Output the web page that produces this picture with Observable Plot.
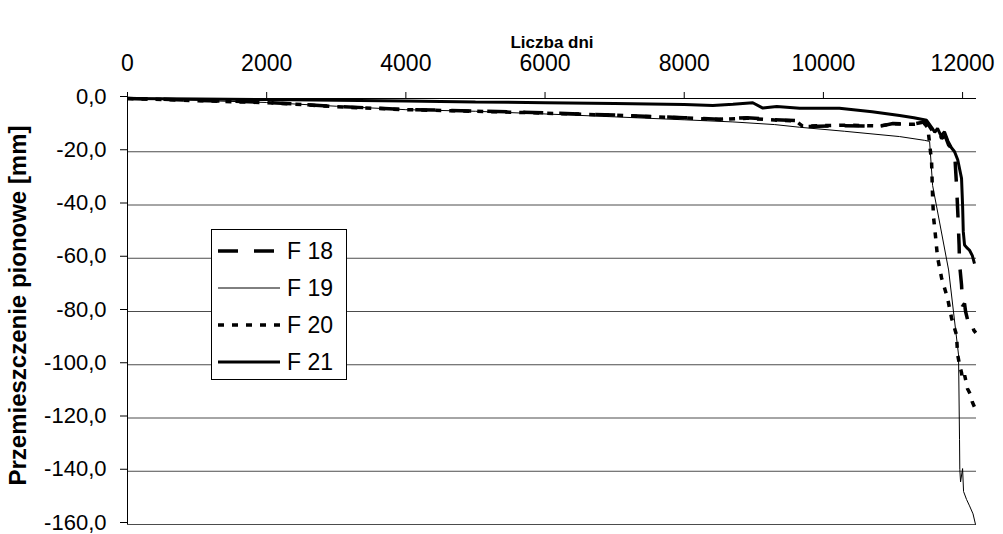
<!DOCTYPE html>
<html>
<head>
<meta charset="utf-8">
<script src="https://cdn.jsdelivr.net/npm/d3@7"></script>
<script src="https://cdn.jsdelivr.net/npm/@observablehq/plot@0.6"></script>
<style>
  body { margin: 0; background: #fff; }
  #wrap { position: relative; width: 1003px; height: 534px; font-family: "Liberation Sans", Arial, sans-serif; }
  #wrap svg { font-family: "Liberation Sans", Arial, sans-serif; }
  #legend { position: absolute; left: 211px; top: 229px; width: 136px; height: 151px; border: 1px solid #000; background: #fff; box-sizing: border-box; }
  .lrow { position: absolute; left: 0; height: 30px; display: flex; align-items: center; }
  .lrow span { font-size: 23px; color: #000; margin-left: 6px; }
</style>
</head>
<body>
<div id="wrap"><div id="legend"></div></div>
<script>
// ---- data ----
const xTicks = [0, 2000, 4000, 6000, 8000, 10000, 12000];
const yTicks = [0, -20, -40, -60, -80, -100, -120, -140, -160];
const seriesNames = ["F 18", "F 19", "F 20", "F 21"];

const f18Days = [0, 500, 1000, 1500, 2000, 2500, 3000, 4000, 5000, 6000, 7000, 8000, 8500, 8900, 9300, 9600, 9700, 10300, 10800, 11000, 11300, 11450, 11500, 11600, 11650, 11700, 11750, 11800, 11885, 11914, 11935, 11950, 11956, 11985, 12000, 12028, 12043, 12071, 12100, 12128, 12160, 12190];
const f18Vals = [0, -0.3, -0.7, -1.0, -1.5, -2.2, -3.0, -4.1, -4.7, -5.4, -6.2, -7.2, -7.8, -7.2, -8.0, -8.3, -10.6, -10.2, -10.5, -9.4, -9.6, -8.8, -9.5, -13.5, -12.0, -15.0, -14.0, -17.5, -20, -33, -45, -55, -62, -70, -78, -77, -80, -83, -85, -84, -87, -88];

const f19Days = [0, 1000, 2000, 3000, 4000, 5000, 6000, 7000, 8000, 8700, 9300, 9660, 10300, 11095, 11450, 11526, 11569, 11799, 11942, 11956, 11960, 11971, 12000, 12014, 12057, 12100, 12150, 12186];
const f19Vals = [0, -0.7, -1.5, -2.9, -4.2, -4.8, -5.8, -6.9, -8.0, -8.8, -9.8, -10.8, -12.3, -14.3, -15.7, -16.1, -32.6, -64.4, -96.3, -128, -139.3, -144, -139, -147.6, -150.6, -153, -156, -160];

const f20Days = [0, 500, 1000, 1500, 2000, 2500, 3000, 4000, 5000, 6000, 7000, 8000, 8500, 8900, 9300, 9600, 9700, 10300, 10800, 11000, 11300, 11450, 11500, 11526, 11555, 11569, 11583, 11612, 11640, 11698, 11784, 11841, 11913, 11928, 11956, 11985, 12000, 12030, 12071, 12110, 12140, 12190];
const f20Vals = [0, -0.4, -0.8, -1.2, -1.6, -2.3, -3.1, -4.2, -4.8, -5.5, -6.3, -7.3, -7.9, -7.4, -8.1, -8.4, -10.4, -10.0, -10.3, -9.5, -9.7, -9.3, -11, -16.8, -24, -37, -44.6, -52, -59.6, -67.4, -75, -82.4, -88.8, -96, -100, -103, -105.6, -104, -109, -111, -114, -117];

const f21Days = [0, 1000, 2000, 3000, 4000, 5000, 6000, 7000, 8000, 8411, 8700, 8985, 9130, 9330, 9660, 10230, 10700, 11095, 11300, 11483, 11560, 11600, 11640, 11690, 11740, 11790, 11840, 11885, 11930, 11985, 12000, 12010, 12028, 12060, 12100, 12140, 12171];
const f21Vals = [0, -0.2, -0.4, -0.7, -0.9, -1.3, -1.6, -1.9, -2.3, -2.6, -2.2, -1.6, -3.6, -3.0, -3.7, -3.7, -5.0, -6.4, -7.2, -8.2, -11, -12.7, -11.2, -14, -12.5, -16, -18.5, -20, -23, -30, -40, -50, -55, -56, -57, -59, -62];

// ---- styles per series ----
const styles = {
  "F 18": {strokeWidth: 3.5, strokeDasharray: "20,16"},
  "F 19": {strokeWidth: 1, strokeDasharray: null},
  "F 20": {strokeWidth: 3.5, strokeDasharray: "6,8"},
  "F 21": {strokeWidth: 3, strokeDasharray: null}
};

const toRows = (name, days, vals) => days.map((d, i) => ({series: name, day: d, val: vals[i]}));
const data = {
  "F 18": toRows("F 18", f18Days, f18Vals),
  "F 19": toRows("F 19", f19Days, f19Vals),
  "F 20": toRows("F 20", f20Days, f20Vals),
  "F 21": toRows("F 21", f21Days, f21Vals)
};

const fmtY = d => d.toFixed(1).replace(".", ",");

const lineMarks = seriesNames.map(n => Plot.line(data[n], {
  x: "day", y: "val", stroke: "#000",
  strokeWidth: styles[n].strokeWidth,
  strokeDasharray: styles[n].strokeDasharray,
  strokeLinejoin: "miter", strokeLinecap: "butt"
}));

const chart = Plot.plot({
  width: 1003,
  height: 534,
  marginLeft: 127,
  marginRight: 27,
  marginTop: 98,
  marginBottom: 10,
  style: {fontSize: "22px", fontFamily: "Liberation Sans, Arial, sans-serif", color: "#000", background: "#fff"},
  x: {domain: [0, 12200]},
  y: {domain: [-160, 0]},
  marks: [
    Plot.gridY(yTicks, {stroke: "#000", strokeOpacity: 0.7, strokeWidth: 1}),
    Plot.ruleY([0], {stroke: "#000", strokeWidth: 1}),
    Plot.ruleX([0], {stroke: "#000", strokeWidth: 1}),
    Plot.axisX({anchor: "top", ticks: xTicks, tickFormat: d => String(d), tickSize: 7, tickPadding: 21, fontSize: 23,
      label: null}),
    Plot.axisY({anchor: "left", ticks: yTicks, tickFormat: fmtY, tickSize: 7, tickPadding: 14, dy: -2,
      label: null}),
    Plot.text(["Liczba dni"], {frameAnchor: "top", dy: -63, lineAnchor: "top", fontWeight: "bold", fontSize: 17}),
    Plot.text(["Przemieszczenie pionowe [mm]"], {frameAnchor: "left", dx: -119, dy: -6, rotate: -90, textAnchor: "middle", lineAnchor: "top", fontWeight: "bold", fontSize: 24}),
    ...lineMarks
  ]
});

const wrap = document.getElementById("wrap");
wrap.insertBefore(chart, wrap.firstChild);

// legend
const legend = document.getElementById("legend");
seriesNames.forEach((n, i) => {
  const row = document.createElement("div");
  row.className = "lrow";
  row.style.top = (6 + i * 37) + "px";
  const ns = "http://www.w3.org/2000/svg";
  const s = document.createElementNS(ns, "svg");
  s.setAttribute("width", 64); s.setAttribute("height", 30);
  s.style.marginLeft = "6px";
  const l = document.createElementNS(ns, "line");
  l.setAttribute("x1", 0); l.setAttribute("x2", 62);
  l.setAttribute("y1", 15); l.setAttribute("y2", 15);
  l.setAttribute("stroke", "#000");
  l.setAttribute("stroke-width", styles[n].strokeWidth);
  if (styles[n].strokeDasharray) l.setAttribute("stroke-dasharray", styles[n].strokeDasharray);
  s.appendChild(l);
  const t = document.createElement("span");
  t.textContent = n;
  t.style.marginLeft = "5px";
  row.appendChild(s); row.appendChild(t);
  legend.appendChild(row);
});
</script>
</body>
</html>
